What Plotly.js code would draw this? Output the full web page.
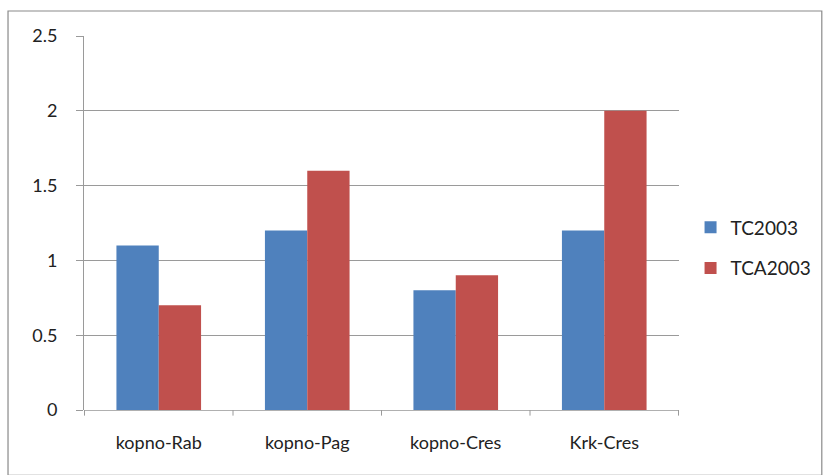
<!DOCTYPE html>
<html>
<head>
<meta charset="utf-8">
<script src="https://cdn.plot.ly/plotly-3.0.1.min.js"></script>
<style>html,body{margin:0;padding:0;background:#fff;}#chart{width:828px;height:475px;}</style>
</head>
<body>
<div id="chart"></div>
<script>
const categories = ["kopno-Rab", "kopno-Pag", "kopno-Cres", "Krk-Cres"];
const seriesNames = ["TC2003", "TCA2003"];
const tc2003 = [1.1, 1.2, 0.8, 1.2];
const tca2003 = [0.7, 1.6, 0.9, 2.0];
const yTicks = [0, 0.5, 1, 1.5, 2, 2.5];
const yTickLabels = ["0", "0.5", "1", "1.5", "2", "2.5"];

const font = {family: "Lato, 'Open Sans', sans-serif", size: 18, color: "#222"};
const data = [
  {type: "bar", name: seriesNames[0], legendgroup: "a", x: categories, y: tc2003, marker: {color: "#4f81bd"}},
  {type: "bar", name: seriesNames[1], legendgroup: "b", x: categories, y: tca2003, marker: {color: "#c0504d"}}
];
const layout = {
  width: 828, height: 475,
  margin: {l: 84, r: 149, t: 36, b: 65, autoexpand: false},
  paper_bgcolor: "#fff", plot_bgcolor: "#fff",
  font: font,
  barmode: "group", bargap: 0.43, bargroupgap: 0,
  showlegend: true,
  legend: {xref: "container", yref: "container", x: 0.834, y: 0.478, xanchor: "left", yanchor: "middle",
           font: {family: font.family, size: 19, color: "#222"}, tracegroupgap: 13, itemwidth: 30,
           bgcolor: "rgba(0,0,0,0)"},
  xaxis: {
    type: "category", showgrid: false, zeroline: false,
    showline: false, ticks: "", tickfont: {size: 18, color: "#222"},
    ticklabelstandoff: 20
  },
  yaxis: {
    range: [0, 2.5], tickvals: yTicks, ticktext: yTickLabels,
    showgrid: true, gridcolor: "#9a9a9a", gridwidth: 1,
    zeroline: true, zerolinecolor: "#b0b0b0",
    showline: true, linecolor: "#9a9a9a", ticks: "outside", ticklen: 7, tickcolor: "#9a9a9a",
    tickfont: {size: 18, color: "#222"}, ticklabelstandoff: 15
  },
  shapes: [
    {type: "rect", xref: "paper", yref: "paper", x0: -0.1277, x1: 1.240, y0: -0.175, y1: 1.0668, line: {color: "#8a8a8a", width: 1.2}, fillcolor: "rgba(0,0,0,0)", layer: "below"}
  ]
};
// category boundary tick marks below the axis
for (let i = 0; i <= categories.length; i++) {
  layout.shapes.push({type: "line", xref: "x", yref: "paper", x0: i - 0.5, x1: i - 0.5, y0: 0, y1: -0.015, line: {color: "#9a9a9a", width: 1}});
}
Plotly.newPlot("chart", data, layout, {displayModeBar: false, staticPlot: true});
</script>
</body>
</html>
